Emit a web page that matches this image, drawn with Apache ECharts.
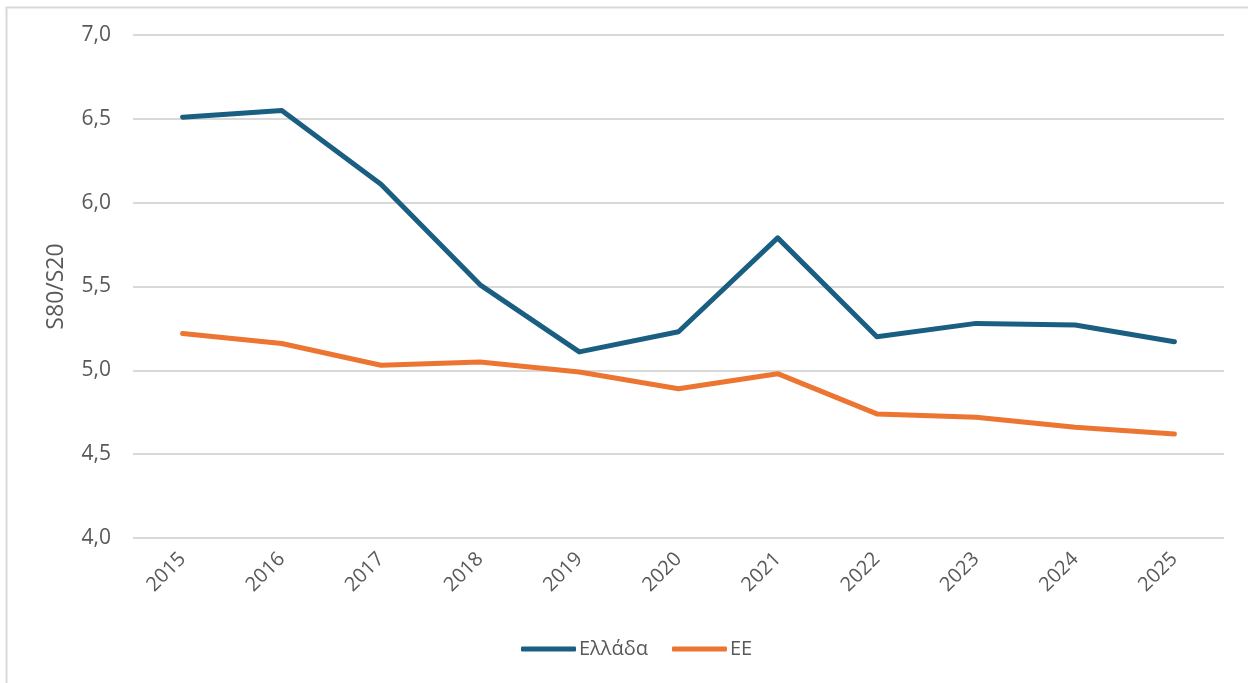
<!DOCTYPE html>
<html>
<head>
<meta charset="utf-8">
<script src="https://cdn.jsdelivr.net/npm/echarts@6/dist/echarts.min.js"></script>
<style>
html,body{margin:0;padding:0;background:#fff;}
#chart{width:1248px;height:683px;}
</style>
</head>
<body>
<div id="chart"></div>
<script>
const years = ['2015','2016','2017','2018','2019','2020','2021','2022','2023','2024','2025'];
const greece = [6.51, 6.55, 6.11, 5.51, 5.11, 5.23, 5.79, 5.20, 5.28, 5.27, 5.17];
const eu = [5.22, 5.16, 5.03, 5.05, 4.99, 4.89, 4.98, 4.74, 4.72, 4.66, 4.62];
const seriesNames = ['Ελλάδα', 'ΕΕ'];
const yAxisName = 'S80/S20';

const chart = echarts.init(document.getElementById('chart'));
const font = '"Open Sans", "Noto Sans", sans-serif';
chart.setOption({
  animation: false,
  textStyle: { fontFamily: font },
  graphic: [{
    type: 'rect',
    shape: { x: 6.5, y: 7.5, width: 1300, height: 800 },
    style: { fill: 'none', stroke: '#d9d9d9', lineWidth: 2 },
    silent: true
  }],
  grid: { left: 133, right: 24, top: 35, bottom: 145 },
  legend: {
    top: 634,
    left: 516,
    itemWidth: 55,
    itemHeight: 5,
    itemGap: 24,
    icon: 'roundRect',
    textStyle: { fontSize: 20, color: '#595959', fontFamily: font, padding: [0, 0, 0, -2] },
    data: seriesNames
  },
  xAxis: {
    type: 'category',
    data: years,
    boundaryGap: true,
    axisLine: { show: false },
    axisTick: { show: false },
    axisLabel: { rotate: 45, fontSize: 20, color: '#595959', margin: 18, fontFamily: font }
  },
  yAxis: {
    type: 'value',
    min: 4, max: 7, interval: 0.5,
    name: yAxisName,
    nameLocation: 'middle',
    nameGap: 65,
    nameTextStyle: { fontSize: 23, color: '#595959', fontFamily: font },
    axisLine: { show: false },
    axisTick: { show: false },
    axisLabel: {
      fontSize: 21, color: '#595959', margin: 22, fontFamily: font,
      formatter: v => v.toFixed(1).replace('.', ',')
    },
    splitLine: { lineStyle: { color: '#d9d9d9', width: 2 } }
  },
  series: [
    {
      name: seriesNames[0], type: 'line', data: greece,
      symbol: 'none', lineStyle: { width: 5, color: '#1a5f82', cap: 'round', join: 'round' },
      itemStyle: { color: '#1a5f82' }
    },
    {
      name: seriesNames[1], type: 'line', data: eu,
      symbol: 'none', lineStyle: { width: 5, color: '#ed7532', cap: 'round', join: 'round' },
      itemStyle: { color: '#ed7532' }
    }
  ]
});
</script>
</body>
</html>
